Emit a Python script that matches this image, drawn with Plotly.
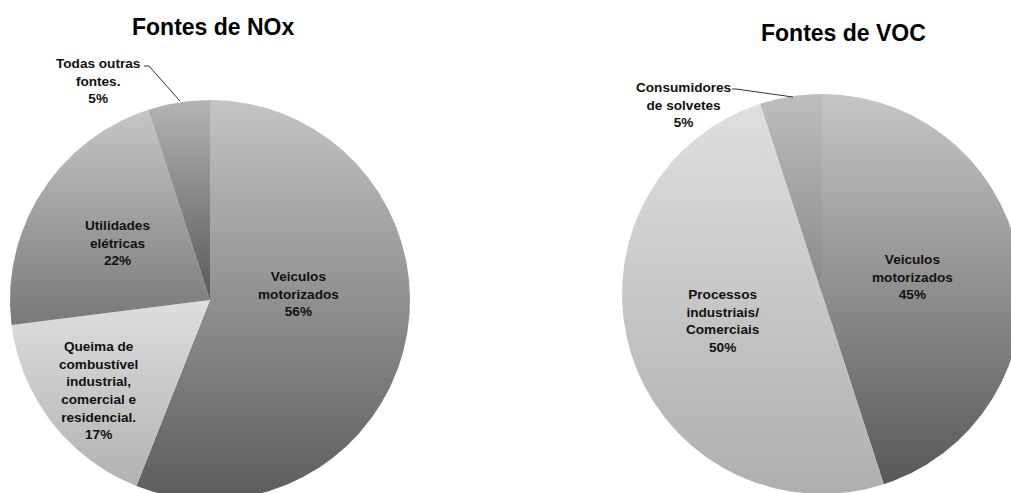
import numpy as np
import plotly.graph_objects as go

# ---- data -------------------------------------------------------------
nox_labels = [
    "Veiculos<br>motorizados",
    "Queima de<br>combustível<br>industrial,<br>comercial e<br>residencial.",
    "Utilidades<br>elétricas",
    "Todas outras<br>fontes.",
]
nox_values = [56, 17, 22, 5]

voc_labels = [
    "Veiculos<br>motorizados",
    "Processos<br>industriais/<br>Comerciais",
    "Consumidores<br>de solvetes",
]
voc_values = [45, 50, 5]

# ---- styling / layout ---------------------------------------------------
W, H = 1011, 493
FONT = "Liberation Sans, Arial, Helvetica, sans-serif"

# gradient per slice: (top colour, bottom colour)
nox_colors = [("#c4c4c4", "#5c5c5c"), ("#dedede", "#b2b2b2"),
              ("#c6c6c6", "#787878"), ("#b4b4b4", "#585858")]
voc_colors = [("#c6c6c6", "#585858"), ("#dfdfdf", "#afafaf"),
              ("#bebebe", "#888888")]

pies = [
    dict(title="Fontes de NOx", title_xy=(213, 27), center=(210, 300), r=200,
         labels=nox_labels, values=nox_values, colors=nox_colors,
         label_xy=[(298, 294), (98, 390), (117, 243), (98, 81)],
         leader=dict(idx=3, pts=[(144, 66), (149, 66), (180, 101)])),
    dict(title="Fontes de VOC", title_xy=(843, 33), center=(822, 294), r=200,
         labels=voc_labels, values=voc_values, colors=voc_colors,
         label_xy=[(912, 277), (722, 321), (683, 105)],
         leader=dict(idx=2, pts=[(732, 89), (736, 89), (793, 97)])),
]


def wedge(cx, cy, r, a0, a1):
    """Outline of a pie wedge; angles in degrees, clockwise from 12 o'clock."""
    n = max(3, int(abs(a1 - a0) * 3))
    t = np.radians(np.linspace(a0, a1, n))
    xs = np.concatenate([[cx], cx + r * np.sin(t), [cx]])
    ys = np.concatenate([[cy], cy - r * np.cos(t), [cy]])
    return xs, ys


fig = go.Figure()
annotations = []
shapes = []

for p in pies:
    cx, cy = p["center"]
    total = float(sum(p["values"]))
    angles = np.concatenate([[0.0], np.cumsum(p["values"]) / total * 360.0])
    for i, v in enumerate(p["values"]):
        xs, ys = wedge(cx, cy, p["r"], angles[i], angles[i + 1])
        top, bottom = p["colors"][i]
        fig.add_trace(go.Scatter(
            x=xs, y=ys, mode="lines", fill="toself",
            line=dict(width=0),
            fillgradient=dict(type="vertical",
                              colorscale=[[0, top], [1, bottom]],
                              start=float(ys.min()), stop=float(ys.max())),
            hoverinfo="skip", showlegend=False,
        ))
        lx, ly = p["label_xy"][i]
        annotations.append(dict(
            x=lx, y=ly, xref="x", yref="y", showarrow=False,
            text=f"{p['labels'][i]}<br>{v / total * 100:.0f}%",
            font=dict(family=FONT, size=13.6, color="#111111", weight="bold"),
            align="center", xanchor="center", yanchor="middle",
        ))
    tx, ty = p["title_xy"]
    annotations.append(dict(
        x=tx, y=ty, xref="x", yref="y", showarrow=False, text=p["title"],
        font=dict(family=FONT, size=23, color="#000000", weight="bold"),
        xanchor="center", yanchor="middle",
    ))
    pts = p["leader"]["pts"]
    path = "M " + " L ".join(f"{x},{y}" for x, y in pts)
    shapes.append(dict(type="path", path=path, xref="x", yref="y",
                       line=dict(color="#333333", width=1)))

fig.update_layout(
    width=W, height=H,
    margin=dict(l=0, r=0, t=0, b=0),
    paper_bgcolor="white", plot_bgcolor="white",
    xaxis=dict(range=[0, W], visible=False, fixedrange=True),
    yaxis=dict(range=[H, 0], visible=False, fixedrange=True),
    annotations=annotations, shapes=shapes,
    showlegend=False,
)

fig.write_html("out.html", config=dict(displayModeBar=False))
